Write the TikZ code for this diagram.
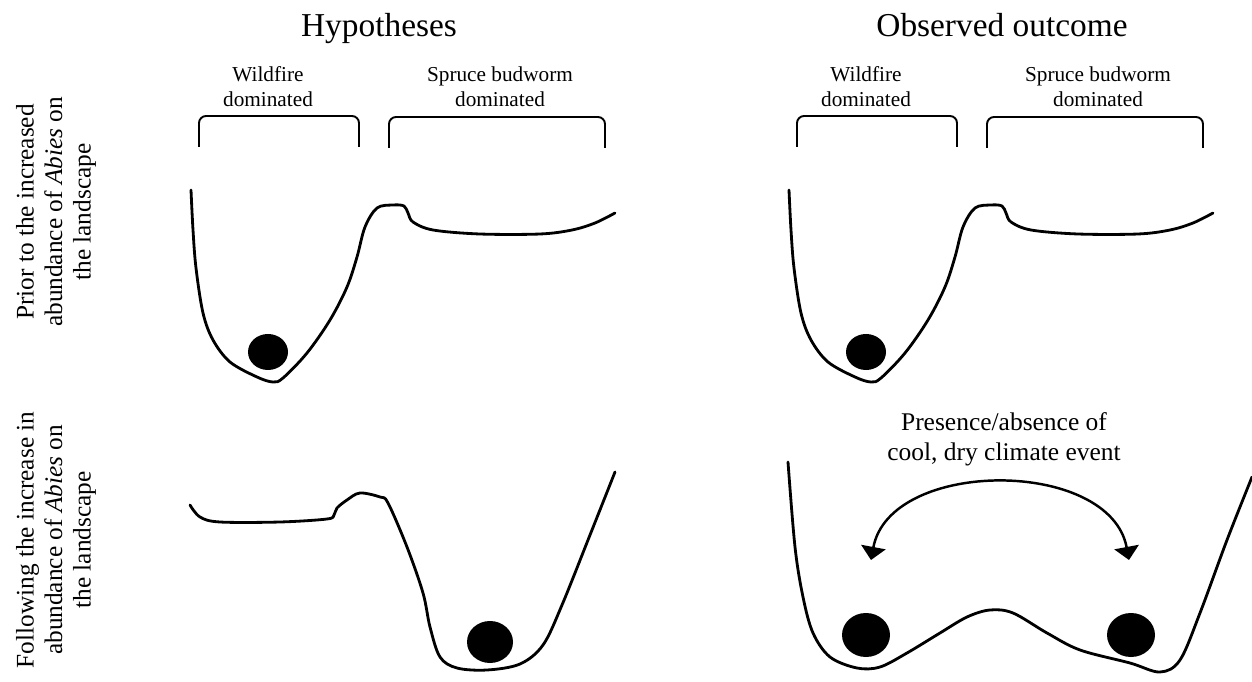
\documentclass[tikz,border=0pt]{standalone}
\usepackage{fontspec}
\setmainfont{Liberation Serif}
\usetikzlibrary{arrows.meta}
\tikzset{
  land/.style   = {line width=1.6pt, line join=round, line cap=round},
  brk/.style    = {line width=1.1pt, rounded corners=4pt},
  ball/.style   = {fill=black},
  ttl/.style    = {anchor=base, font=\fontsize{19}{22}\selectfont},
  lbl/.style    = {align=center, inner sep=0pt,
                   font=\fontsize{12.1}{14.2}\selectfont},
  rowlbl/.style = {align=center, rotate=90, inner sep=0pt,
                   font=\fontsize{14.4}{16.2}\selectfont},
  evarr/.style  = {{Triangle[width=14pt,length=7.5pt]}-{Triangle[width=14pt,length=7.5pt]},
                   line width=1.4pt},
}

\begin{document}
\begin{tikzpicture}[x=0.02cm, y=-0.02cm]
  \useasboundingbox (0,0) rectangle (1252,682);

  %% Column titles
  \node[ttl] (hyp) at (379,37)  {Hypotheses};
  \node[ttl] (obs) at (1002,37) {Observed outcome};

  %% Row labels
  \node[rowlbl] (prior)  at (56,212)
        {Prior to the increased\\abundance of \textit{Abies} on\\the landscape};
  \node[rowlbl] (follow) at (56,540)
        {Following the increase in\\abundance of \textit{Abies} on\\the landscape};

  %% Top row: same landscape in both columns
  \foreach \dx/\nm in {0/h, 598/o} {
    \begin{scope}[shift={(\dx,0)}]
      \node[lbl] (wf\nm) at (268,87) {Wildfire\\dominated};
      \node[lbl] (sb\nm) at (500,87) {Spruce budworm\\dominated};
      \draw[brk] (199,147) -- (199,116) -- (359,116) -- (359,147);
      \draw[brk] (389,148) -- (389,117) -- (605,117) -- (605,148);
      \draw[land] plot[smooth, tension=0.55] coordinates {
        (191,190) (193,230) (196,268) (203,313) (213,340) (230,362)
        (257,377) (273,382) (283,378) (307,353) (330,320) (347,287)
        (357,257) (365,227) (377,208) (393,205) (404,206) (408,213)
        (413,222) (433,230) (480,234) (540,234) (572,230) (595,223)
        (615,213)};
      \fill[ball] (268,352) ellipse [x radius=20, y radius=18];
    \end{scope}
  }

  %% Bottom row, hypotheses
  \draw[land] plot[smooth, tension=0.55] coordinates {
    (190,505) (200,517) (220,522) (280,522) (327,519) (334,515)
    (337,508) (347,500) (360,493) (380,497) (388,503) (407,547)
    (423,593) (430,627) (440,657) (457,668) (487,670) (520,664)
    (543,645) (562,605) (590,535) (615,472)};
  \fill[ball] (490,642) ellipse [x radius=23, y radius=21];

  %% Bottom row, observed
  \draw[land] plot[smooth, tension=0.55] coordinates {
    (788,462) (795,547) (803,597) (813,633) (830,657) (857,668)
    (880,667) (907,653) (940,633) (967,617) (990,610) (1013,613)
    (1047,633) (1080,650) (1130,663) (1160,672) (1180,660)
    (1200,613) (1227,540) (1252,477)};
  \fill[ball] (866,635)  ellipse [x radius=24, y radius=22];
  \fill[ball] (1131,635) ellipse [x radius=24, y radius=22];

  \node[lbl, font=\fontsize{14.5}{17}\selectfont] (event) at (1004,439)
        {Presence/absence of\\cool, dry climate event};
  \coordinate (evL) at (871,560);
  \coordinate (evR) at (1129,560);
  \draw[evarr] (evL) .. controls (890,458) and (1110,458) .. (evR);

\end{tikzpicture}
\end{document}
